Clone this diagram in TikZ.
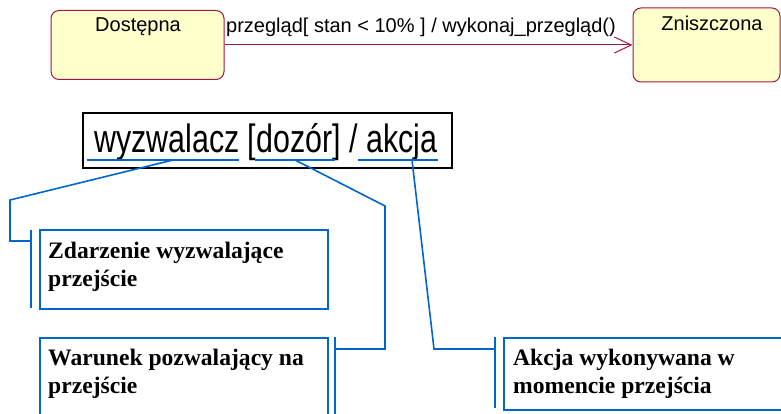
\documentclass[tikz,border=0pt]{standalone}
\usepackage{fontspec}
\setmainfont{Liberation Serif}
\setsansfont{Liberation Sans}
\usetikzlibrary{arrows.meta}

\definecolor{stanbrzeg}{HTML}{A31547}
\definecolor{stantlo}{HTML}{FFFFCC}
\definecolor{objasn}{HTML}{0066CC}

\begin{document}
\begin{tikzpicture}[x=1pt, y=-1pt,
    stan/.style={draw=stanbrzeg, fill=stantlo, rounded corners=8pt, line width=1pt},
    opis/.style={font=\sffamily\fontsize{20}{24}\selectfont, inner sep=0pt},
    ramka/.style={draw=objasn, line width=1.8pt, anchor=north west},
    tekst/.style={font=\rmfamily\bfseries\fontsize{23.6}{28}\selectfont, inner sep=0pt, align=left},
    linia/.style={draw=objasn, line width=1.6pt}]
    \useasboundingbox (0,0) rectangle (781,414);

    % stany
    \node[stan, minimum width=173pt, minimum height=69pt] (D) at (137.5,45) {};
    \node[stan, minimum width=147pt, minimum height=74pt] (Z) at (706.5,45) {};
    \node[opis, anchor=base] (DT) at (138,32) {Dostępna};
    \node[opis, anchor=base] (ZT) at (712,31) {Zniszczona};

    % przejście
    \draw[stanbrzeg, line width=1pt, -{Straight Barb[length=17pt, width=16pt]}] (D.east) -- (Z.west);
    \node[opis, anchor=base west] (L) at (226,33) {przegląd[ stan < 10\% ] / wykonaj\_przegląd()};

    % wyrażenie
    \node[draw, line width=2pt, minimum width=369pt, minimum height=55pt] (W) at (267.5,140.5) {};
    \node[font=\sffamily\fontsize{39.5}{44}\selectfont, inner sep=0pt, anchor=base west] (WT) at (94,153)
        {\scalebox{0.77}[1]{wyzwalacz [dozór] / akcja}};

    % podkreślenia
    \coordinate (A1) at (87,160);
    \coordinate (A2) at (239,160);
    \coordinate (B1) at (255,160);
    \coordinate (B2) at (335,160);
    \coordinate (C1) at (358,160);
    \coordinate (C2) at (438,160);
    \draw[linia] (A1) -- (A2);
    \draw[linia] (B1) -- (B2);
    \draw[linia] (C1) -- (C2);

    % objaśnienia
    \node[ramka, minimum width=288pt, minimum height=79pt] (K1) at (39,229) {};
    \node[ramka, minimum width=288pt, minimum height=95pt] (K2) at (39,337) {};
    \node[ramka, minimum width=290pt, minimum height=72pt] (K3) at (503,337) {};
    \node[tekst, anchor=base west] (T1) at (48,286) {Zdarzenie wyzwalające\\przejście};
    \node[tekst, anchor=base west] (T2) at (48,393) {Warunek pozwalający na\\przejście};
    \node[tekst, anchor=base west] (T3) at (513,393) {Akcja wykonywana w\\momencie przejścia};

    \coordinate (A) at (173,160);
    \coordinate (E) at (10,200);
    \coordinate (F) at (10,241);
    \coordinate (G) at (31,241);
    \coordinate (G1) at (31,230);
    \coordinate (G2) at (31,308);
    \coordinate (B) at (295,160);
    \coordinate (H) at (385,206);
    \coordinate (I) at (385,349);
    \coordinate (J) at (335,349);
    \coordinate (J1) at (335,337);
    \coordinate (J2) at (335,420);
    \coordinate (C) at (412,160);
    \coordinate (M) at (434,349);
    \coordinate (N) at (495,349);
    \coordinate (N1) at (495,337);
    \coordinate (N2) at (495,408);

    % linie
    \draw[linia] (A) -- (E) -- (F) -- (G);
    \draw[linia] (G1) -- (G2);
    \draw[linia] (B) -- (H) -- (I) -- (J);
    \draw[linia] (J1) -- (J2);
    \draw[linia] (C) -- (M) -- (N);
    \draw[linia] (N1) -- (N2);
\end{tikzpicture}
\end{document}
